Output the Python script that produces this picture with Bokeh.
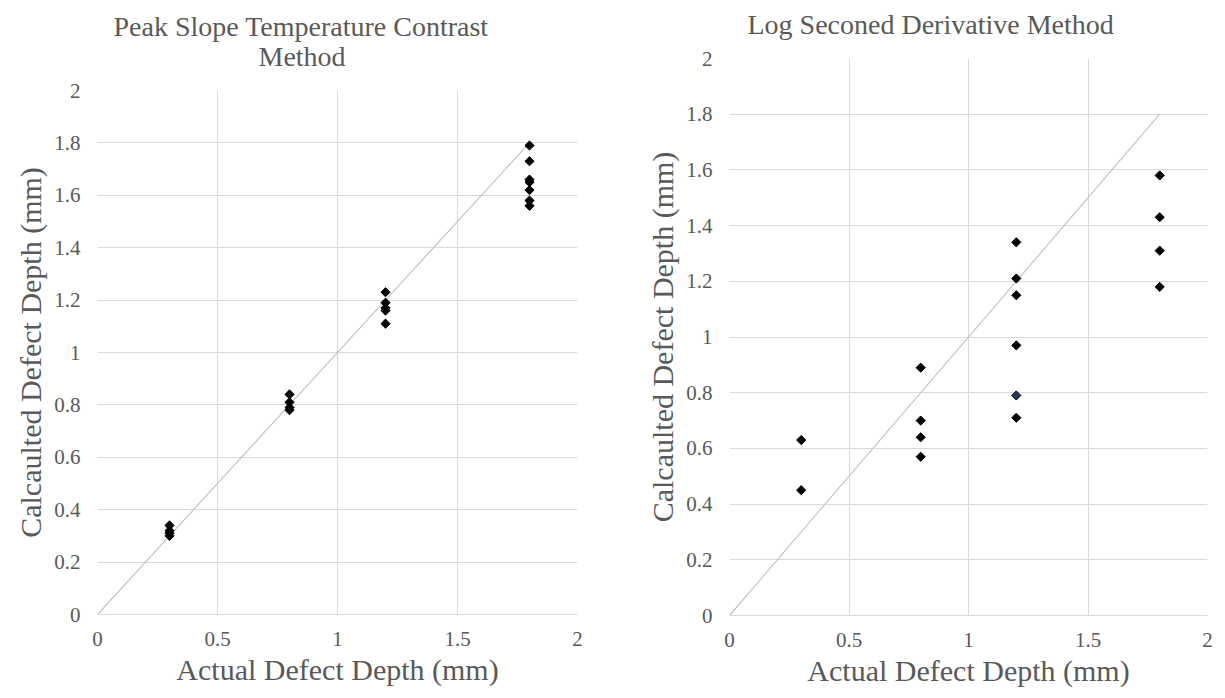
from bokeh.plotting import figure
from bokeh.layouts import row
from bokeh.models import FixedTicker, Title, Range1d
from bokeh.embed import file_html
from bokeh.resources import INLINE

# ---- data ----
psc_actual = [0.3, 0.3, 0.3, 0.3,
              0.8, 0.8, 0.8, 0.8,
              1.2, 1.2, 1.2, 1.2, 1.2,
              1.8, 1.8, 1.8, 1.8, 1.8, 1.8, 1.8]
psc_calc = [0.34, 0.32, 0.31, 0.30,
            0.84, 0.81, 0.79, 0.78,
            1.23, 1.19, 1.17, 1.16, 1.11,
            1.79, 1.73, 1.66, 1.65, 1.62, 1.58, 1.56]

lsd_actual = [0.3, 0.3,
              0.8, 0.8, 0.8, 0.8,
              1.2, 1.2, 1.2, 1.2, 1.2,
              1.8, 1.8, 1.8, 1.8]
lsd_calc = [0.63, 0.45,
            0.89, 0.70, 0.64, 0.57,
            1.34, 1.21, 1.15, 0.97, 0.71,
            1.58, 1.43, 1.31, 1.18]
lsd_extra_actual = [1.2]
lsd_extra_calc = [0.79]

ref_x = [0, 1.8]
ref_y = [0, 1.8]

x_ticks = [0, 0.5, 1, 1.5, 2]
x_tick_labels = ["0", "0.5", "1", "1.5", "2"]
y_ticks = [0, 0.2, 0.4, 0.6, 0.8, 1, 1.2, 1.4, 1.6, 1.8, 2]
y_tick_labels = ["0", "0.2", "0.4", "0.6", "0.8", "1", "1.2", "1.4", "1.6", "1.8", "2"]

x_title = "Actual Defect Depth (mm)"
y_title = "Calcaulted Defect Depth (mm)"
left_title = ["Peak Slope Temperature Contrast", "Method"]
right_title = "Log Seconed Derivative Method"

FONT = "Liberation Serif"
TXT = "#595959"
GRID = "#d9d9d9"


def make(width, borders, title_lines, xs, ys):
    left, right, top, bottom = borders
    p = figure(width=width, height=698, output_backend="svg", toolbar_location=None,
               x_range=Range1d(0, 2), y_range=Range1d(0, 2),
               min_border_left=left, min_border_right=right,
               min_border_top=top, min_border_bottom=bottom,
               frame_align=False)
    p.title = None
    for text, off, standoff in reversed(title_lines):
        p.add_layout(Title(text=text, align="left", offset=off, standoff=standoff,
                           text_font=FONT, text_font_size="28px",
                           text_font_style="normal", text_color=TXT), "above")
    p.outline_line_color = None
    p.background_fill_color = "white"
    p.border_fill_color = "white"

    p.xaxis.ticker = FixedTicker(ticks=x_ticks)
    p.yaxis.ticker = FixedTicker(ticks=y_ticks)
    p.xaxis.major_label_overrides = dict(zip(x_ticks, x_tick_labels))
    p.yaxis.major_label_overrides = dict(zip(y_ticks, y_tick_labels))
    for ax in (p.xaxis, p.yaxis):
        ax.major_tick_line_color = None
        ax.minor_tick_line_color = None
        ax.major_tick_out = 0
        ax.major_tick_in = 0
        ax.major_label_text_font = FONT
        ax.major_label_text_font_size = "21px"
        ax.major_label_text_color = TXT
        ax.axis_label_text_font = FONT
        ax.axis_label_text_font_size = "30px"
        ax.axis_label_text_font_style = "normal"
        ax.axis_label_text_color = TXT
        ax.major_label_standoff = 17
        ax.axis_label_standoff = 4
    p.xaxis.axis_line_color = GRID
    p.yaxis.axis_line_color = None
    p.xaxis.axis_label = x_title
    p.yaxis.axis_label = y_title

    p.xgrid.ticker = FixedTicker(ticks=x_ticks)
    p.ygrid.ticker = FixedTicker(ticks=y_ticks)
    p.grid.grid_line_color = GRID
    p.grid.grid_line_width = 1

    p.line(ref_x, ref_y, line_color="#c4c4c4", line_width=1.2)
    p.scatter(xs, ys, marker="square", angle=0.785398, size=6.5,
              fill_color="black", line_color="black")
    return p


p1 = make(612, (97, 35, 90, 84),
          [(left_title[0], 16, -44), (left_title[1], 161, 38)],
          psc_actual, psc_calc)
# right title: a blank spacer line below the real title lifts it clear of the frame
p2 = make(613, (117, 18, 58, 83),
          [(right_title, 18, 13), (" ", 0, -21)],
          lsd_actual, lsd_calc)
p2.scatter(lsd_extra_actual, lsd_extra_calc, marker="square", angle=0.785398, size=6.5,
           fill_color="#1f3864", line_color="black")

layout = row(p1, p2, spacing=0)
open("out.html", "w").write(file_html(layout, INLINE))
